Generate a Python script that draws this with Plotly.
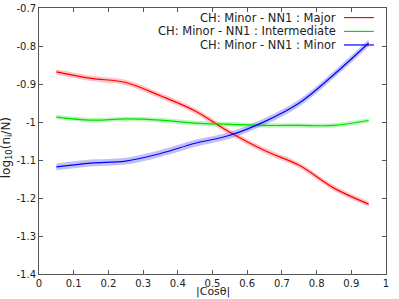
import plotly.graph_objects as go

x_vals = [0.05, 0.15, 0.25, 0.35, 0.45, 0.55, 0.65, 0.75, 0.85, 0.95]
major = [-0.868, -0.885, -0.896, -0.931, -0.971, -1.027, -1.075, -1.114, -1.174, -1.216]
intermediate = [-0.987, -0.995, -0.992, -0.995, -1.003, -1.006, -1.009, -1.009, -1.009, -0.996]
minor = [-1.118, -1.108, -1.103, -1.083, -1.056, -1.035, -0.999, -0.950, -0.875, -0.792]
major_err = [0.007] * 10
intermediate_err = [0.006] * 10
minor_err = [0.009] * 10

names = ["CH: Minor - NN1 : Major", "CH: Minor - NN1 : Intermediate", "CH: Minor - NN1 : Minor"]
colors = ["#ff0000", "#00dd00", "#0000ff"]
bands = ["rgba(255,100,100,0.4)", "rgba(90,235,90,0.4)", "rgba(100,100,235,0.4)"]

x_ticks = [0, 0.1, 0.2, 0.3, 0.4, 0.5, 0.6, 0.7, 0.8, 0.9, 1]
x_labels = ["0", "0.1", "0.2", "0.3", "0.4", "0.5", "0.6", "0.7", "0.8", "0.9", "1"]
y_ticks = [-1.4, -1.3, -1.2, -1.1, -1.0, -0.9, -0.8, -0.7]
y_labels = ["-1.4", "-1.3", "-1.2", "-1.1", "-1", "-0.9", "-0.8", "-0.7"]

fig = go.Figure()
series = [(major, major_err), (intermediate, intermediate_err), (minor, minor_err)]
for (ys, es), name, col, bc in zip(series, names, colors, bands):
    upper = [y + e for y, e in zip(ys, es)]
    lower = [y - e for y, e in zip(ys, es)]
    fig.add_trace(go.Scatter(x=x_vals, y=upper, mode="lines", line=dict(width=0, shape="spline"),
                             showlegend=False, hoverinfo="skip"))
    fig.add_trace(go.Scatter(x=x_vals, y=lower, mode="lines", line=dict(width=0, shape="spline"),
                             fill="tonexty", fillcolor=bc, showlegend=False, hoverinfo="skip"))
for ys, name, col in zip([major, intermediate, minor], names, colors):
    fig.add_trace(go.Scatter(x=x_vals, y=ys, mode="lines", name=name,
                             line=dict(color=col, width=1.2, shape="spline"), showlegend=False))

# legend drawn as annotations with line samples on the right
leg_y = [0.964, 0.912, 0.861]
for name, col, yy in zip(names, colors, leg_y):
    fig.add_annotation(xref="paper", yref="paper", x=0.857, y=yy, text=name, showarrow=False,
                       xanchor="right", yanchor="middle", xshift=2, font=dict(size=11.5, color="#222"))
    fig.add_shape(type="line", xref="paper", yref="paper", x0=0.879, x1=0.965, y0=yy, y1=yy,
                  line=dict(color=col, width=1.2))

# axis titles
fig.add_annotation(xref="paper", yref="paper", x=0.5, y=-0.094, text="|Cosθ|", showarrow=False,
                   xanchor="center", yanchor="bottom", borderpad=0, font=dict(size=11, color="#222"))
fig.add_annotation(xref="paper", yref="paper", x=-0.092, y=0.473, text="log<sub>10</sub>(n<sub>i</sub>/N)",
                   showarrow=False, textangle=-90, xanchor="center", yanchor="middle",
                   font=dict(size=12, color="#222"))

axis_common = dict(showgrid=False, zeroline=False, showline=True, mirror="ticks", linecolor="#555",
                   linewidth=1, ticks="inside", ticklen=4, tickcolor="#555",
                   tickfont=dict(size=10, color="#222"), automargin=False)
fig.update_xaxes(range=[0, 1], tickvals=x_ticks, ticktext=x_labels, **axis_common)
fig.update_yaxes(range=[-1.4, -0.7], tickvals=y_ticks, ticktext=y_labels, **axis_common)
fig.update_layout(width=399, height=299, margin=dict(l=39, r=13, t=8, b=25),
                  plot_bgcolor="white", paper_bgcolor="white", hovermode=False,
                  font=dict(family="DejaVu Sans", size=11, color="#222"))
fig.write_html("out.html", config={"displayModeBar": False},
               post_script="document.body.style.margin='0';document.body.style.padding='0';")
